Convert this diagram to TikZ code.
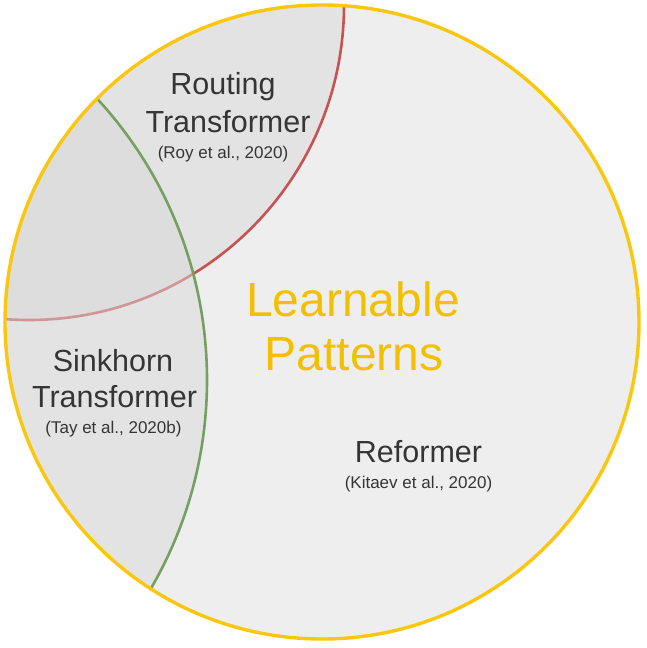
\documentclass[tikz,border=0pt]{standalone}
\usepackage{fontspec}
\setmainfont{Liberation Sans}
\definecolor{ringyellow}{HTML}{FAC70E}
\definecolor{titleyellow}{HTML}{F3C000}
\definecolor{basegray}{HTML}{EEEEEE}
\definecolor{shadegray}{HTML}{D9D9D9}
\definecolor{routered}{HTML}{C85252}
\definecolor{sinkgreen}{HTML}{76A062}
\definecolor{labelgray}{HTML}{353535}
\tikzset{
  lbl/.style={inner sep=0pt, anchor=base, text=labelgray, font=\fontsize{30.5}{36}\selectfont},
  refl/.style={inner sep=0pt, anchor=base, text=labelgray, font=\fontsize{17}{20}\selectfont},
  bigl/.style={inner sep=0pt, anchor=base, text=titleyellow, font=\fontsize{48}{56}\selectfont},
  shade/.style={fill=shadegray, fill opacity=0.5},
  arcline/.style={line width=2.6pt}
}
\begin{document}
\begin{tikzpicture}[x=1pt,y=-1pt]
\useasboundingbox (0,0) rectangle (646,648);
\fill[white] (0,0) rectangle (646,648);
% the outer set and the two overlapping sets inside it
\coordinate (outerc) at (322,322);
\coordinate (redc) at (29,5);
\coordinate (greenc) at (-208,380);
\fill[basegray] (outerc) circle[radius=317pt];
\begin{scope}
  \clip (outerc) circle[radius=317pt];
  \fill[shade] (redc) circle[radius=315pt];
  \draw[arcline, routered] (redc) circle[radius=315pt];
  \fill[shade] (greenc) circle[radius=415pt];
  \draw[arcline, sinkgreen] (greenc) circle[radius=415pt];
\end{scope}
\draw[line width=3.4pt, ringyellow] (outerc) circle[radius=317pt];
% labels
\node[lbl] (rt1) at (223,94) {Routing};
\node[lbl] (rt2) at (228,132) {Transformer};
\node[refl] (rtref) at (223,158) {(Roy et al., 2020)};
\node[lbl] (sk1) at (113,371) {Sinkhorn};
\node[lbl] (sk2) at (114.5,407) {Transformer};
\node[refl] (skref) at (113.5,433) {(Tay et al., 2020b)};
\node[lbl] (rf1) at (418.5,462) {Reformer};
\node[refl] (rfref) at (418.5,488) {(Kitaev et al., 2020)};
\node[bigl] (lp1) at (353,316) {Learnable};
\node[bigl] (lp2) at (354,370) {Patterns};
\end{tikzpicture}
\end{document}
